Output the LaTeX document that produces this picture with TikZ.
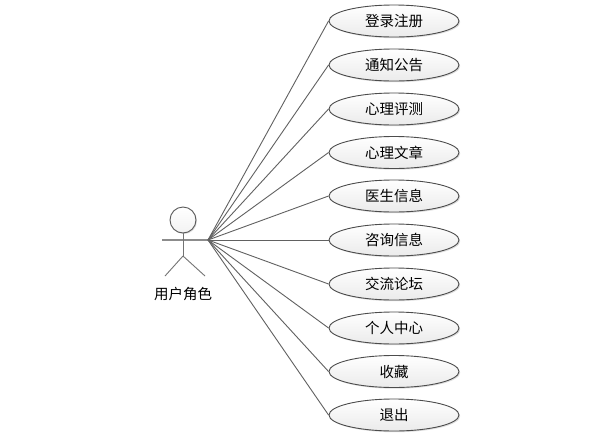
\documentclass[tikz,border=0pt]{standalone}
\usepackage{fontspec}
\setmainfont{Noto Sans CJK SC}
\usetikzlibrary{shapes.geometric,shadows}
\tikzset{
  usecase/.style={ellipse,draw=black!70,line width=0.9pt,minimum width=130pt,minimum height=32pt,inner sep=0pt,
    top color=white,bottom color=black!8,
    drop shadow={shadow xshift=1.2pt,shadow yshift=-1.2pt,fill=black!22,opacity=0.6},
    text=black,font=\fontsize{14.5pt}{16pt}\selectfont},
  assoc/.style={draw=black!62,line width=0.9pt},
  limb/.style={draw=black!55,line width=0.9pt},
  armline/.style={draw=black!45,line width=1.4pt},
  headnode/.style={circle,draw=black!65,line width=0.9pt,minimum size=26pt,inner sep=0pt,
    top color=white,bottom color=black!5,
    drop shadow={shadow xshift=1pt,shadow yshift=-1pt,fill=black!22,opacity=0.6}},
  lbl/.style={inner sep=0pt,font=\fontsize{14.5pt}{16pt}\selectfont},
}
\begin{document}
\begin{tikzpicture}[x=1pt,y=-1pt]
\useasboundingbox (0,0) rectangle (603,437);
\fill[white] (0,0) rectangle (603,437);
\coordinate (hub) at (208,240);
\coordinate (armL) at (162,240);
\coordinate (hip) at (183,256);
\coordinate (footL) at (165,276);
\coordinate (footR) at (205,276);
\node[usecase] (u1) at (394,21) {登录注册};
\node[usecase] (u2) at (394,65) {通知公告};
\node[usecase] (u3) at (394,109) {心理评测};
\node[usecase] (u4) at (394,152.5) {心理文章};
\node[usecase] (u5) at (394,196) {医生信息};
\node[usecase] (u6) at (394,240) {咨询信息};
\node[usecase] (u7) at (394,284) {交流论坛};
\node[usecase] (u8) at (394,328) {个人中心};
\node[usecase] (u9) at (394,371.5) {收藏};
\node[usecase] (u10) at (394,415) {退出};
\node[headnode] (head) at (183,220) {};
\node[lbl] (actor) at (183,294) {用户角色};
\draw[armline] (armL) -- (hub);
\draw[limb] (head.south) -- (hip);
\draw[limb] (hip) -- (footL);
\draw[limb] (hip) -- (footR);
\foreach \n in {u1,u2,u3,u4,u5,u6,u7,u8,u9,u10}
  \draw[assoc] (hub) -- (\n.west);
\end{tikzpicture}
\end{document}
